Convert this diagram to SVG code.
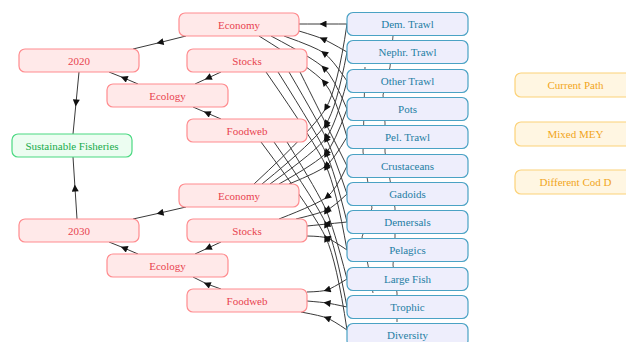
<svg xmlns="http://www.w3.org/2000/svg" width="626" height="342" viewBox="0 0 626 342">
<defs>
<style>
text{font-family:"Liberation Serif","Times New Roman",serif;font-size:11px;text-anchor:middle}
.e{fill:none;stroke:#3a3a3a;stroke-width:1;marker-mid:url(#ah)}
.h{fill:none;stroke:#555;stroke-width:1}
.r rect{fill:#ffe9e9;stroke:#ff8c8f;stroke-width:1.2}
.r text{fill:#e8434f}
.b rect{fill:#eeeefc;stroke:#4aa2c4;stroke-width:1.2}
.b text{fill:#1f7ea4}
.g rect{fill:#ecfdf1;stroke:#4bd982;stroke-width:1.2}
.g text{fill:#17ac4c}
.o rect{fill:#fff6e2;stroke:#fcd279;stroke-width:1.2}
.o text{fill:#f1a51a}
</style>
<marker id="ah" viewBox="0 0 10 10" refX="5" refY="5" markerWidth="8" markerHeight="7" markerUnits="userSpaceOnUse" orient="auto">
<path d="M0,0 L10,5 L0,10 z" fill="#111"/>
</marker>
</defs>
<rect width="626" height="342" fill="#fff"/>
<g id="connectors">
<path class="h" d="M393,36 L390,67 L383,95 L385,123 L385,152 L395,208 L395,237 L393,265 L397,293 L397,322"/>
<path class="h" d="M365,67 L363,152 L372,208 L362,237 L368,265 L373,293"/>
<path class="e" d="M186,36 L160,42.5 L133,49"/>
<path class="e" d="M138,84 L124,78 L109,72"/>
<path class="e" d="M221,72 L208,78 L195,84"/>
<path class="e" d="M221,119 L207,113 L193,107"/>
<path class="e" d="M79,72 L76,103 L73,134"/>
<path class="e" d="M186,207 L160,213 L133,219"/>
<path class="e" d="M138,254 L124,248 L109,242"/>
<path class="e" d="M221,242 L208,248 L195,254"/>
<path class="e" d="M221,289 L207,284 L193,277"/>
<path class="e" d="M77,219 L75,188 L73,157"/>
<path class="e" d="M347,24 Q329,24 323,24 T299,24"/>
<path class="e" d="M347,52 Q329,41.6 323,39 T299,31"/>
<path class="e" d="M347,81 Q331.9,58.6 324,53 T284,36"/>
<path class="e" d="M347,109 Q333.5,77.1 324,68 T271,36"/>
<path class="e" d="M347,137 Q335,94.6 324,82 T259,36"/>
<path class="e" d="M347,24 Q337.6,88 326,108 T254,184"/>
<path class="e" d="M347,52 Q336.6,107.5 326,124 T262,184"/>
<path class="e" d="M347,81 Q335.6,125.1 326,138 T270,184"/>
<path class="e" d="M347,109 Q334.5,143.6 326,153 T279,184"/>
<path class="e" d="M347,137 Q333.25,160.1 326,166 T289,184"/>
<path class="e" d="M347,166 Q331.9,135.75 326,124 T300,72"/>
<path class="e" d="M347,194 Q333.25,153.25 326,138 T289,72"/>
<path class="e" d="M347,222 Q334.6,171.75 326,153 T278,72"/>
<path class="e" d="M347,250 Q336.1,188.25 326,166 T266,72"/>
<path class="e" d="M347,279 Q333.5,227.1 326,210 T287,142"/>
<path class="e" d="M347,307 Q335.1,244.6 326,224 T274,142"/>
<path class="e" d="M347,330 Q336.75,261.5 326,238 T261,142"/>
<path class="e" d="M347,166 Q335.5,190.4 327,197 T279,219"/>
<path class="e" d="M347,194 Q333.4,206.9 327,210 T296,219"/>
<path class="e" d="M347,222 Q332,223.5 327,224 T307,226"/>
<path class="e" d="M347,250 Q332,239.75 327,238 T307,236"/>
<path class="e" d="M347,279 Q332,288.4 327,290 T307,292"/>
<path class="e" d="M347,307 Q332,303.75 327,303 T307,301"/>
<path class="e" d="M347,330 Q332.75,320.25 327,318 T301,312"/>
</g>
<g id="economy-2020" class="r"><rect x="179" y="13" width="120" height="23" rx="6"/><text x="239" y="28.5">Economy</text></g>
<g id="y2020" class="r"><rect x="19" y="49" width="120" height="23" rx="6"/><text x="79" y="64.5">2020</text></g>
<g id="stocks-2020" class="r"><rect x="187" y="49" width="120" height="23" rx="6"/><text x="247" y="64.5">Stocks</text></g>
<g id="ecology-2020" class="r"><rect x="107" y="84" width="121" height="23" rx="6"/><text x="167.5" y="99.5">Ecology</text></g>
<g id="foodweb-2020" class="r"><rect x="187" y="119" width="120" height="23" rx="6"/><text x="247" y="134.5">Foodweb</text></g>
<g id="sustainable" class="g"><rect x="12" y="134" width="120" height="23" rx="6"/><text x="72" y="149.5">Sustainable Fisheries</text></g>
<g id="economy-2030" class="r"><rect x="179" y="184" width="120" height="23" rx="6"/><text x="239" y="199.5">Economy</text></g>
<g id="y2030" class="r"><rect x="19" y="219" width="120" height="23" rx="6"/><text x="79" y="234.5">2030</text></g>
<g id="stocks-2030" class="r"><rect x="187" y="219" width="120" height="23" rx="6"/><text x="247" y="234.5">Stocks</text></g>
<g id="ecology-2030" class="r"><rect x="107" y="254" width="121" height="23" rx="6"/><text x="167.5" y="269.5">Ecology</text></g>
<g id="foodweb-2030" class="r"><rect x="187" y="289" width="120" height="23" rx="6"/><text x="247" y="304.5">Foodweb</text></g>
<g id="dem-trawl" class="b"><rect x="347" y="12.5" width="121" height="23" rx="6"/><text x="407.5" y="28">Dem. Trawl</text></g>
<g id="nephr-trawl" class="b"><rect x="347" y="40.5" width="121" height="23" rx="6"/><text x="407.5" y="56">Nephr. Trawl</text></g>
<g id="other-trawl" class="b"><rect x="347" y="69.5" width="121" height="23" rx="6"/><text x="407.5" y="85">Other Trawl</text></g>
<g id="pots" class="b"><rect x="347" y="97.5" width="121" height="23" rx="6"/><text x="407.5" y="113">Pots</text></g>
<g id="pel-trawl" class="b"><rect x="347" y="125.5" width="121" height="23" rx="6"/><text x="407.5" y="141">Pel. Trawl</text></g>
<g id="crustaceans" class="b"><rect x="347" y="154.5" width="121" height="23" rx="6"/><text x="407.5" y="170">Crustaceans</text></g>
<g id="gadoids" class="b"><rect x="347" y="182.5" width="121" height="23" rx="6"/><text x="407.5" y="198">Gadoids</text></g>
<g id="demersals" class="b"><rect x="347" y="210.5" width="121" height="23" rx="6"/><text x="407.5" y="226">Demersals</text></g>
<g id="pelagics" class="b"><rect x="347" y="238.5" width="121" height="23" rx="6"/><text x="407.5" y="254">Pelagics</text></g>
<g id="large-fish" class="b"><rect x="347" y="267.5" width="121" height="23" rx="6"/><text x="407.5" y="283">Large Fish</text></g>
<g id="trophic" class="b"><rect x="347" y="295.5" width="121" height="23" rx="6"/><text x="407.5" y="311">Trophic</text></g>
<g id="diversity" class="b"><rect x="347" y="323.5" width="121" height="23" rx="6"/><text x="407.5" y="339">Diversity</text></g>
<g id="current-path" class="o"><rect x="515" y="73" width="121" height="24" rx="6"/><text x="575.5" y="89">Current Path</text></g>
<g id="mixed-mey" class="o"><rect x="515" y="122" width="121" height="24" rx="6"/><text x="575.5" y="138">Mixed MEY</text></g>
<g id="different-cod" class="o"><rect x="515" y="170" width="121" height="24" rx="6"/><text x="575.5" y="186">Different Cod D</text></g>
</svg>
